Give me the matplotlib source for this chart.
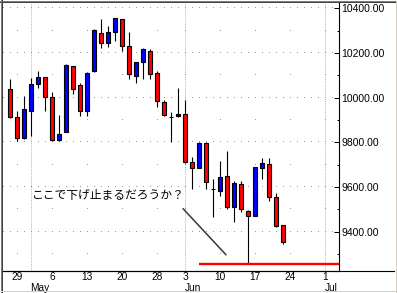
import numpy as np
import pandas as pd
import matplotlib
matplotlib.use('Agg')
import matplotlib.pyplot as plt
from matplotlib.lines import Line2D

plt.rcParams['font.family'] = ['Liberation Sans', 'DejaVu Sans']

# trading days (Memorial Day and Jul 4 removed)
days = pd.bdate_range('2002-04-26', '2002-07-05')
days = days.drop([pd.Timestamp('2002-05-27'), pd.Timestamp('2002-07-04')])

# daily candles (Apr 26 .. Jun 21)
opens = [10037, 9912, 9818, 9942, 10060, 10091, 10004, 9810, 9847, 10140,
         10055, 9939, 10118, 10288, 10243, 10292, 10352, 10231, 10098, 10158,
         10210, 10109, 9979, 9915, 9916, 9925, 9712, 9686, 9798, 9592,
         9583, 9648, 9509, 9612, 9494, 9471, 9684, 9701, 9556, 9428]
highs = [10083, 9940, 10007, 10089, 10119, 10093, 10024, 9922, 10149, 10143,
         10066, 10115, 10307, 10352, 10321, 10357, 10354, 10294, 10160, 10220,
         10216, 10119, 9989, 9937, 10043, 9990, 9736, 9800, 9800, 9636,
         9716, 9761, 9628, 9628, 9496, 9690, 9731, 9731, 9572, 9430]
lows = [9908, 9807, 9815, 9828, 10042, 9940, 9808, 9808, 9845, 10015,
        9919, 9919, 10116, 10224, 10228, 10255, 10210, 10085, 10064, 10085,
        10085, 9959, 9919, 9800, 9914, 9708, 9590, 9684, 9591, 9467,
        9559, 9501, 9444, 9489, 9255, 9469, 9634, 9537, 9422, 9343]
closes = [9912, 9818, 9949, 10060, 10091, 10004, 9810, 9836, 10145, 10037,
          9939, 10109, 10301, 10243, 10292, 10355, 10231, 10106, 10158, 10218,
          10104, 9983, 9921, 9912, 9927, 9710, 9686, 9798, 9621, 9590,
          9643, 9509, 9616, 9500, 9471, 9688, 9706, 9556, 9427, 9352]

price_ticks = [9400, 9600, 9800, 10000, 10200, 10400]
minor_ticks = [9300, 9500, 9700, 9900, 10100, 10300]
month_names = {5: 'May', 6: 'Jun', 7: 'Jul'}

note = 'ここで下げ止まるだろうか？'
support_from = pd.Timestamp('2002-06-05')

W, H = 397, 293
fig = plt.figure(figsize=(W / 100, H / 100), dpi=100)
fig.patch.set_facecolor('white')
ax = fig.add_axes([3 / W, 1 - 271 / H, 336 / W, 269 / H])
ax.set_xlim(-1.04, 46.96)
ax.set_ylim(9224, 10428)

x = np.arange(len(opens))
o = np.array(opens); c = np.array(closes)
h = np.array(highs); l = np.array(lows)

# grid: month lines + dot grid
week_first = [i for i in range(1, len(days)) if days[i].weekday() < days[i - 1].weekday()]
month_first = [i for i in range(1, len(days)) if days[i].month != days[i - 1].month]
for i in month_first:
    ax.axvline(i, color='#b4b4b4', lw=0.72, ls=(0, (1, 1.2)), zorder=0)
gx = np.arange(-1, 47)
for lev in price_ticks:
    ax.plot(gx, [lev] * len(gx), ',', color='#999999', zorder=0)
for lev in minor_ticks:
    ax.plot(week_first, [lev] * len(week_first), ',', color='#999999', zorder=0)

# candles
ax.vlines(x, l, h, color='black', lw=0.8, zorder=2)
cols = np.where(c < o, '#ff0000', '#0000ff')
bot = np.minimum(o, c)
hgt = np.maximum(np.abs(c - o), 2)
ax.bar(x, hgt, bottom=bot, width=0.6, color=cols, edgecolor='black', lw=0.8, zorder=3)

# support line at the low, and the note
s0 = list(days).index(support_from)
ax.hlines(min(lows), s0, 46.96, color='#ff0000', lw=1.7, zorder=4)
ax.plot([24.7, 30.8], [9500, 9295], color='#b0b0b0', lw=1.0, zorder=3)
ax.plot([24.7, 30.8], [9503, 9298], color='#303030', lw=0.9, zorder=3)
ax.text(3.05, 9564, note, family=['Noto Sans CJK JP', 'DejaVu Sans'], fontsize=8.5,
        ha='left', va='center', zorder=5)

# axes
for s in ['left', 'top']:
    ax.spines[s].set_visible(False)
ax.spines['right'].set_linewidth(0.8)
ax.spines['bottom'].set_linewidth(0.8)
ax.yaxis.tick_right()
ax.set_yticks(price_ticks)
ax.set_yticklabels(['%.2f' % v for v in price_ticks])
ax.set_yticks(minor_ticks, minor=True)
ax.tick_params(axis='y', which='major', direction='in', length=3.6, width=0.72,
               pad=1.5, labelsize=7.5)
ax.tick_params(axis='y', which='minor', direction='in', length=1.5, width=0.72)
ax.set_xticks(week_first)
ax.set_xticklabels([str(days[i].day) for i in week_first])
ax.tick_params(axis='x', length=0, pad=0.8, labelsize=7.3)
for i in month_first:
    ax.annotate(month_names[days[i].month], xy=(i, 0), xycoords=('data', 'axes fraction'),
                xytext=(-0.5, -8.6), textcoords='offset points', ha='left', va='top',
                fontsize=7.3)

# outer frame and long bottom line
def fline(x0, y0, x1, y1, col, lw=0.72):
    fig.add_artist(Line2D([x0 / W, x1 / W], [1 - y0 / H, 1 - y1 / H], color=col, lw=lw))

fline(3, 271, 394, 271, 'black', 0.8)
fline(0, 0.5, W, 0.5, '#808080')
fline(0, 1.5, W - 1, 1.5, '#404040')
fline(0.5, 0, 0.5, H, '#808080')
fline(1.5, 0, 1.5, H - 1, '#404040')
fline(395.5, 1, 395.5, H - 1, '#d4d0c8')
fline(1, 290.5, W - 1, 290.5, '#d4d0c8')

fig.savefig('out.png', dpi=100)
